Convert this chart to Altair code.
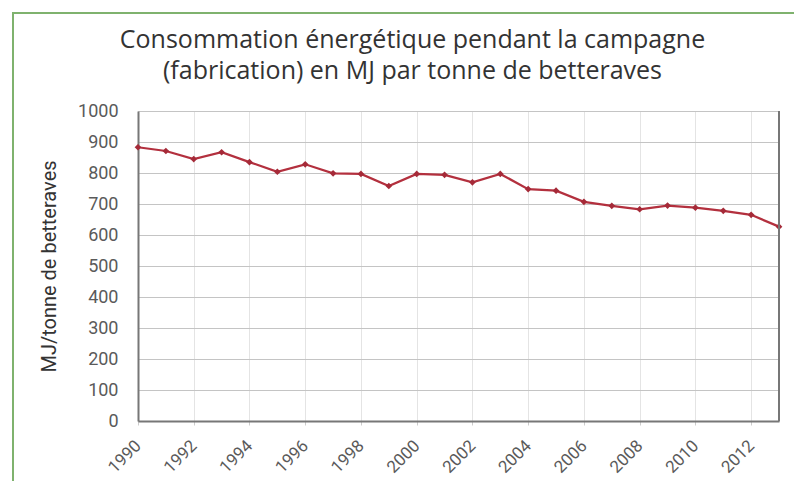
import altair as alt
import pandas as pd

years = list(range(1990, 2014))
values = [883, 871, 845, 867, 835, 804, 828, 799, 797, 758, 797, 794,
          770, 797, 748, 743, 707, 694, 683, 695, 688, 678, 665, 627]
x_ticks = list(range(1990, 2013, 2))
y_ticks = list(range(0, 1001, 100))
title_lines = ["Consommation énergétique pendant la campagne",
               "(fabrication) en MJ par tonne de betteraves"]
y_title = "MJ/tonne de betteraves"

df = pd.DataFrame({"annee": years, "mj": values})

W, H = 641, 310
FONT = "Roboto"

x_enc = alt.X("annee:Q", scale=alt.Scale(domain=[1990, 2013], nice=False, zero=False),
              axis=alt.Axis(values=x_ticks, format="d", labelAngle=-45, labelAlign="right",
                            labelBaseline="middle", labelPadding=18, labelFontSize=17,
                            labelColor="#5a5a5a", labelFont=FONT, title=None,
                            grid=True, gridColor="#e4e4e4", tickColor="#cccccc", tickSize=4,
                            domainColor="#777777", domainWidth=2, labelFlush=False))
y_enc = alt.Y("mj:Q", scale=alt.Scale(domain=[0, 1000], nice=False),
              axis=alt.Axis(values=y_ticks, format="d", labelFontSize=18, labelColor="#5a5a5a",
                            labelFont=FONT, title=y_title, titleFontSize=20,
                            titleFont=FONT, titleFontWeight="normal", titleColor="#333333",
                            titlePadding=18, grid=True, gridColor="#c4c4c4", ticks=False,
                            labelPadding=20, domainColor="#777777", domainWidth=2))

line = alt.Chart(df).mark_line(color="#b3303e", strokeWidth=2.2,
                               point=alt.OverlayMarkDef(shape="diamond", size=45,
                                                        color="#a52a38", filled=True)
                               ).encode(x=x_enc, y=y_enc)

frame = alt.Chart(df).mark_rect(fill=None, stroke="#7fb26e", strokeWidth=2).encode(
    x=alt.value(-125), x2=alt.value(663), y=alt.value(-98), y2=alt.value(380))

right_edge = alt.Chart(df).mark_rule(color="#777777", strokeWidth=2).encode(
    x=alt.value(W), y=alt.value(0), y2=alt.value(H))

chart = alt.layer(frame, line, right_edge).properties(
    width=W, height=H,
    title=alt.TitleParams(text=title_lines, fontSize=25, font="Open Sans", fontWeight="normal",
                          color="#333333", lineHeight=31, offset=-72, dx=-46, anchor="middle"),
    autosize=alt.AutoSizeParams(type="none"),
    padding={"left": 130, "top": 103, "right": 15, "bottom": 60},
).configure_view(stroke="#999999", strokeWidth=1).configure(background="white")

chart.save("out.html", embed_options={"renderer": "svg", "actions": False})
